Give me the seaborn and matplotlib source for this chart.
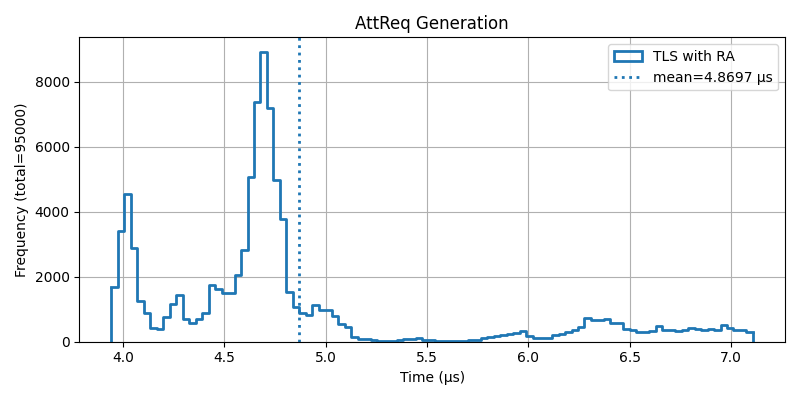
import numpy as np
import pandas as pd
import matplotlib
matplotlib.use("Agg")
import matplotlib.pyplot as plt
from matplotlib.patches import Patch
from matplotlib.lines import Line2D
import seaborn as sns

# Histogram range and counts (99 equal-width bins)
bin_start = 3.9444
bin_end = 7.1068
counts = [
    1692, 3415, 4533, 2892, 1262, 892, 431, 400, 749, 1169,
    1446, 708, 585, 687, 892, 1744, 1610, 1487, 1508, 2062,
    2810, 5056, 7364, 8923, 7200, 4974, 3764, 1538, 1067, 872,
    831, 1138, 985, 985, 800, 534, 441, 154, 72, 72,
    40, 35, 30, 30, 40, 72, 72, 123, 60, 60,
    30, 25, 25, 25, 30, 60, 60, 113, 150, 180,
    210, 250, 280, 320, 180, 113, 113, 113, 205, 246,
    287, 349, 451, 728, 677, 677, 698, 585, 585, 400,
    369, 308, 308, 339, 492, 369, 369, 328, 369, 420,
    390, 359, 400, 369, 503, 410, 349, 349, 287,
]
mean_value = 4.8697
total = 95000
series_label = "TLS with RA"

edges = np.linspace(bin_start, bin_end, len(counts) + 1)
centers = (edges[:-1] + edges[1:]) / 2
df = pd.DataFrame({"time": centers, "count": counts})

fig, ax = plt.subplots(figsize=(8, 4), dpi=100)
color = "#1f77b4"
sns.histplot(data=df, x="time", weights="count", bins=edges.tolist(),
             element="step", fill=False, color=color, linewidth=2, ax=ax)
# close the step outline at both ends like a step histogram
ax.vlines([edges[0], edges[-1]], 0, [counts[0], counts[-1]],
          color=color, linewidth=2)
ax.axvline(mean_value, color=color, linestyle=":", linewidth=2)

ax.set_xlim(bin_start - 0.05 * (bin_end - bin_start),
            bin_end + 0.05 * (bin_end - bin_start))
ax.set_ylim(0, max(counts) * 1.05)
ax.grid(True)
ax.set_title("AttReq Generation")
ax.set_xlabel("Time (µs)")
ax.set_ylabel(f"Frequency (total={total})")

handles = [
    Patch(facecolor="none", edgecolor=color, linewidth=2, label=series_label),
    Line2D([0], [0], color=color, linestyle=":", linewidth=2,
           label=f"mean={mean_value:.4f} µs"),
]
ax.legend(handles=handles, loc="upper right")
fig.tight_layout()
fig.savefig("out.png", dpi=100)
